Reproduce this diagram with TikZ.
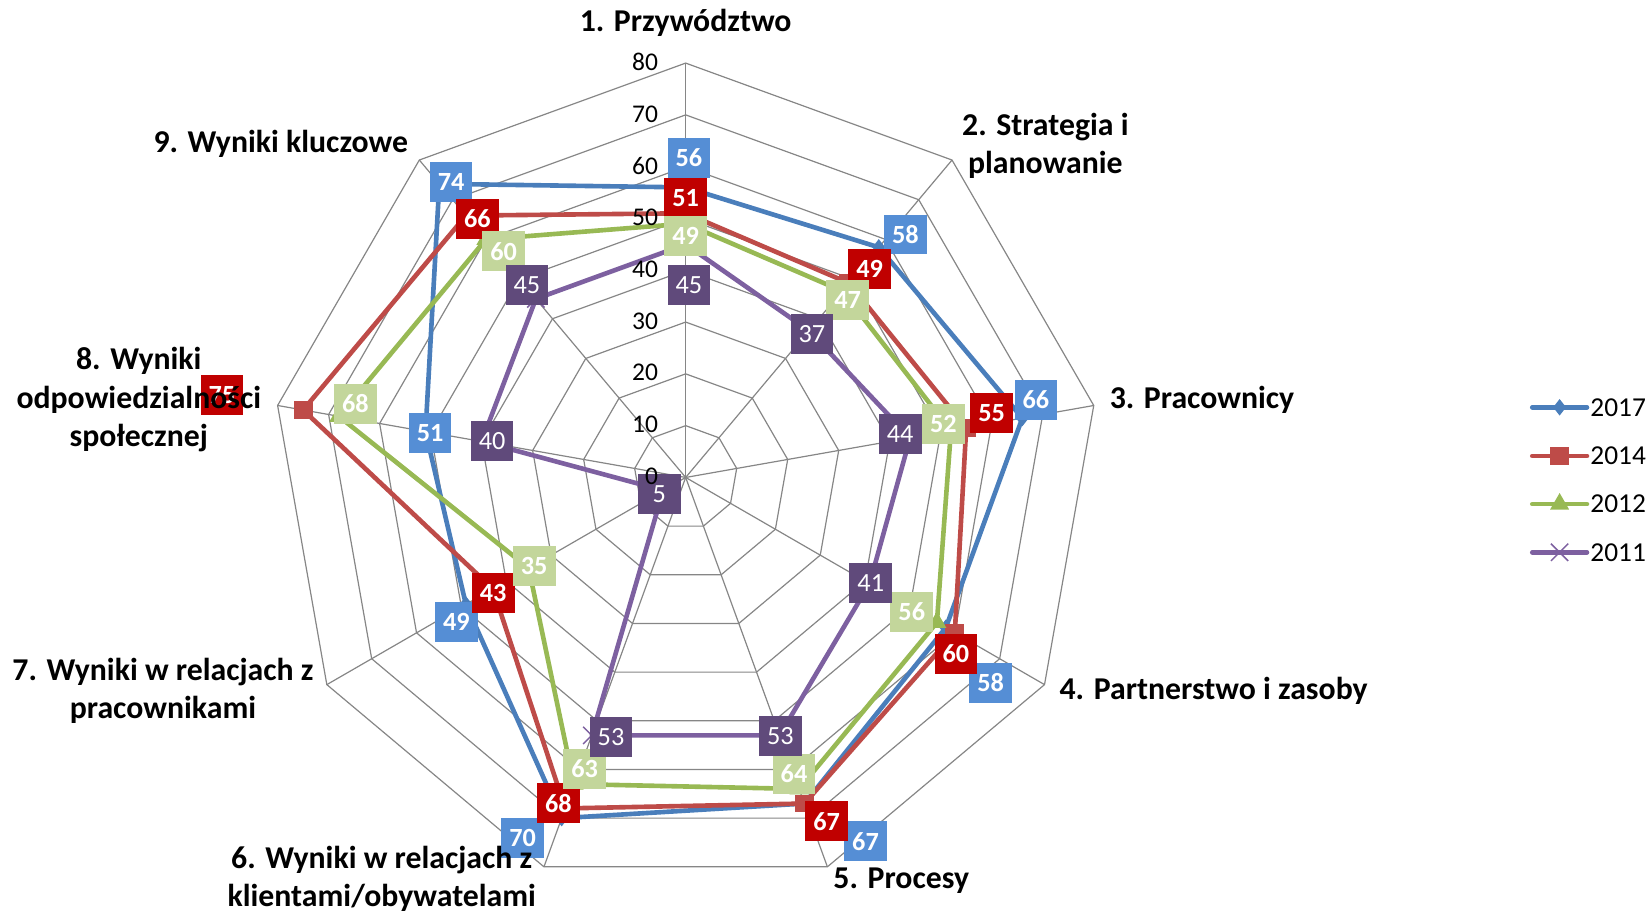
\documentclass[tikz,border=0pt]{standalone}
\usepackage{fontspec}
\setmainfont{Carlito}
\usetikzlibrary{shapes.geometric, shapes.misc}
\definecolor{gridgray}{HTML}{868686}
\definecolor{line17}{HTML}{4A7EBB}
\definecolor{fill17}{HTML}{558ED5}
\definecolor{line14}{HTML}{BE4B48}
\definecolor{fill14}{HTML}{C00000}
\definecolor{line12}{HTML}{98B954}
\definecolor{fill12}{HTML}{C3D69B}
\definecolor{line11}{HTML}{7D60A0}
\definecolor{fill11}{HTML}{604A7B}

\begin{document}
\begin{tikzpicture}[x=0.02cm, y=0.02cm,
  gridline/.style={draw=gridgray, line width=0.65pt},
  series/.style={line width=2.5pt, line join=round},
  legline/.style={line width=2.5pt, line cap=round},
  vbox/.style={minimum width=0.81cm, minimum height=0.76cm, inner sep=0pt,
               text=white, font=\fontsize{14.2}{16}\selectfont\bfseries},
  vboxthin/.style={vbox, font=\fontsize{14.2}{16}\selectfont},
  ticklbl/.style={anchor=east, inner sep=0pt, font=\fontsize{13.8}{16}\selectfont},
  axlbl/.style={align=center, inner sep=0pt, font=\fontsize{17.2}{20.7}\selectfont\bfseries},
  legtxt/.style={anchor=west, inner sep=0pt, font=\fontsize{14.8}{17}\selectfont},
  mk17/.style={diamond, fill=line17, inner sep=0pt, minimum width=0.25cm, minimum height=0.32cm},
  mk14/.style={rectangle, fill=line14, inner sep=0pt, minimum width=0.36cm, minimum height=0.34cm},
  mk12/.style={regular polygon, regular polygon sides=3, fill=line12, inner sep=0pt, minimum size=0.42cm},
  mk11/.style={cross out, draw=line11, line width=0.8pt, inner sep=0pt, minimum size=0.3cm}
]
  \useasboundingbox (-652,-417) rectangle (916,454);

  % grid: rings every 10 and spokes
  \coordinate (o) at (0,0);
  \foreach \i in {1,...,9}
    \coordinate (ax-\i) at ({130-40*\i}:394);
  \foreach \k in {1,...,8}
    \draw[gridline] (90:{\k*49.25}) \foreach \i in {2,...,9} {-- ({130-40*\i}:{\k*49.25})} -- cycle;
  \foreach \i in {1,...,9}
    \draw[gridline] (o) -- (ax-\i);

  % 2017
  \foreach \v [count=\i] in {56,58,66,58,67,70,49,51,74}
    \coordinate (p17-\i) at ({130-40*\i}:{\v*4.925});
  \draw[series, line17] (p17-1) \foreach \i in {2,...,9} {-- (p17-\i)} -- cycle;
  \foreach \i in {1,...,9} \node[mk17] (m17-\i) at (p17-\i) {};

  % 2014
  \foreach \v [count=\i] in {51,49,55,60,67,68,43,75,66}
    \coordinate (p14-\i) at ({130-40*\i}:{\v*4.925});
  \draw[series, line14] (p14-1) \foreach \i in {2,...,9} {-- (p14-\i)} -- cycle;
  \foreach \i in {1,...,9} \node[mk14] (m14-\i) at (p14-\i) {};

  % 2012
  \foreach \v [count=\i] in {49,47,52,56,64,63,35,68,60}
    \coordinate (p12-\i) at ({130-40*\i}:{\v*4.925});
  \draw[series, line12] (p12-1) \foreach \i in {2,...,9} {-- (p12-\i)} -- cycle;
  \foreach \i in {1,...,9} \node[mk12] (m12-\i) at (p12-\i) {};

  % 2011
  \foreach \v [count=\i] in {45,37,44,41,53,53,5,40,45}
    \coordinate (p11-\i) at ({130-40*\i}:{\v*4.925});
  \draw[series, line11] (p11-1) \foreach \i in {2,...,9} {-- (p11-\i)} -- cycle;
  \foreach \i in {1,...,9} \node[mk11] (m11-\i) at (p11-\i) {};

  % data labels
  \foreach \v/\x/\y [count=\i] in {56/3/304, 58/209/231, 66/333/74, 58/290/-195,
      67/171/-346, 70/-155/-343, 49/-218/-137, 51/-243/42, 74/-223/281}
    \node[vbox, fill=fill17] (v17-\i) at (\x,\y) {\v};
  \foreach \v/\x/\y [count=\i] in {51/0/266, 49/175/198, 55/291/61, 60/257/-168,
      67/134/-327, 68/-121/-310, 43/-183/-110, 75/-441/78, 66/-198/246}
    \node[vbox, fill=fill14] (v14-\i) at (\x,\y) {\v};
  \foreach \v/\x/\y [count=\i] in {49/0/230, 47/154/169, 52/245/51, 56/215/-128,
      64/103/-282, 63/-96/-277, 35/-144/-84, 68/-314/70, 60/-173/215}
    \node[vbox, fill=fill12] (v12-\i) at (\x,\y) {\v};
  \foreach \v/\x/\y [count=\i] in {45/3/183, 37/120/136, 44/204/41, 41/176/-100,
      53/90/-246, 53/-71/-247, 5/-25/-16, 40/-184/35, 45/-151/183}
    \node[vboxthin, fill=fill11] (v11-\i) at (\x,\y) {\v};

  % scale
  \foreach \k [evaluate=\k as \kv using int(10*\k)] in {0,...,8}
    \node[ticklbl] (t\k) at (-26,{\k*49.25+1}) {\kv};

  % axis names
  \node[axlbl] (n1) at (0,432) {1. Przywództwo};
  \node[axlbl] (n2) at (342,315) {2. Strategia i\\planowanie};
  \node[axlbl] (n3) at (491,74) {3. Pracownicy};
  \node[axlbl] (n4) at (502,-203) {4. Partnerstwo i zasoby};
  \node[axlbl] (n5) at (205,-383) {5. Procesy};
  \node[axlbl] (n6) at (-289,-382) {6. Wyniki w relacjach z\\klientami/obywatelami};
  \node[axlbl] (n7) at (-497,-203) {7. Wyniki w relacjach z\\pracownikami};
  \node[axlbl] (n8) at (-520,74) {8. Wyniki\\odpowiedzialności\\społecznej};
  \node[axlbl] (n9) at (-385,317) {9. Wyniki kluczowe};

  % legend
  \foreach \s/\y/\yr in {17/66.7/2017, 14/20.4/2014, 12/-25.3/2012, 11/-71.2/2011} {
    \coordinate (la\s) at (805,\y);
    \coordinate (lb\s) at (857,\y);
    \draw[legline, line\s] (la\s) -- (lb\s);
    \node[mk\s] (lm\s) at (831,\y) {};
    \node[legtxt] (lt\s) at (860,\y) {\yr};
  }
\end{tikzpicture}
\end{document}
